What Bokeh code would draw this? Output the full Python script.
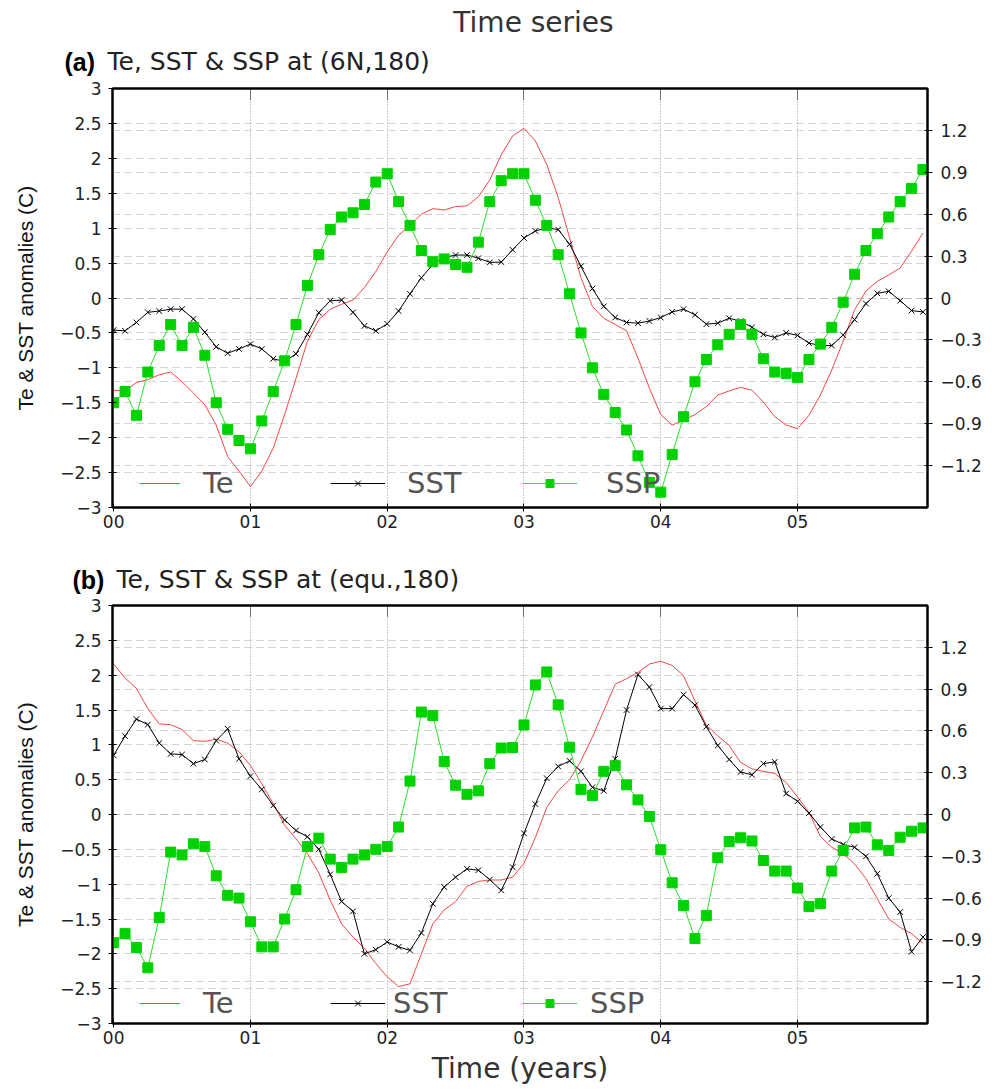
import numpy as np
from bokeh.plotting import figure
from bokeh.models import Range1d, LinearAxis, FixedTicker, Legend, LegendItem, Grid
from bokeh.core.properties import value
from bokeh.layouts import column
from bokeh.embed import file_html
from bokeh.resources import INLINE

# ---------------- data ----------------
months = list(range(72))
year_ticks = [0, 12, 24, 36, 48, 60]
year_labels = ["00", "01", "02", "03", "04", "05"]
left_ticks = [-3.0, -2.5, -2.0, -1.5, -1.0, -0.5, 0.0, 0.5, 1.0, 1.5, 2.0, 2.5, 3.0]
left_labels = ["\u22123", "\u22122.5", "\u22122", "\u22121.5", "\u22121", "\u22120.5", "0",
               "0.5", "1", "1.5", "2", "2.5", "3"]
right_ticks = [-1.2, -0.9, -0.6, -0.3, 0.0, 0.3, 0.6, 0.9, 1.2]
right_labels = ["\u22121.2", "\u22120.9", "\u22120.6", "\u22120.3", "0", "0.3", "0.6", "0.9", "1.2"]

# panel (a) 6N,180
te_a = [-1.32, -1.33, -1.21, -1.17, -1.10, -1.06, -1.20, -1.36, -1.53, -1.82, -2.27, -2.48,
        -2.70, -2.48, -2.15, -1.67, -1.15, -0.62, -0.31, -0.16, -0.09, -0.03, 0.15, 0.38,
        0.66, 0.90, 1.04, 1.20, 1.28, 1.26, 1.31, 1.32, 1.45, 1.69, 2.05, 2.32,
        2.43, 2.25, 1.91, 1.44, 0.86, 0.29, -0.12, -0.29, -0.38, -0.47, -0.86, -1.29,
        -1.67, -1.82, -1.75, -1.67, -1.555, -1.39, -1.33, -1.28, -1.32, -1.49, -1.70, -1.82,
        -1.87, -1.68, -1.39, -1.03, -0.62, -0.17, 0.10, 0.24, 0.33, 0.43, 0.67, 0.93]
sst_a = [-0.46, -0.47, -0.35, -0.205, -0.186, -0.16, -0.16, -0.30, -0.49, -0.70, -0.79, -0.73,
         -0.66, -0.73, -0.87, -0.91, -0.80, -0.52, -0.21, -0.04, -0.03, -0.205, -0.40, -0.47,
         -0.37, -0.186, 0.06, 0.29, 0.48, 0.58, 0.615, 0.615, 0.57, 0.51, 0.515, 0.69,
         0.86, 0.96, 1.005, 0.98, 0.77, 0.455, 0.135, -0.12, -0.28, -0.35, -0.36, -0.33,
         -0.28, -0.20, -0.16, -0.24, -0.375, -0.36, -0.29, -0.33, -0.42, -0.52, -0.565, -0.50,
         -0.535, -0.646, -0.68, -0.68, -0.53, -0.31, -0.08, 0.067, 0.096, -0.038, -0.18, -0.20]
ssp_a = [-0.75, -0.67, -0.84, -0.53, -0.34, -0.19, -0.34, -0.21, -0.41, -0.75, -0.94, -1.02,
         -1.08, -0.88, -0.67, -0.45, -0.19, 0.09, 0.31, 0.49, 0.58, 0.61, 0.67, 0.83,
         0.89, 0.69, 0.52, 0.34, 0.26, 0.28, 0.24, 0.22, 0.40, 0.69, 0.84, 0.89,
         0.89, 0.70, 0.52, 0.31, 0.03, -0.25, -0.50, -0.69, -0.82, -0.945, -1.13, -1.32,
         -1.39, -1.12, -0.85, -0.60, -0.44, -0.335, -0.26, -0.19, -0.26, -0.435, -0.53, -0.54,
         -0.57, -0.44, -0.33, -0.21, -0.03, 0.17, 0.34, 0.46, 0.58, 0.69, 0.785, 0.92]

# panel (b) equ.,180
te_b = [2.16, 1.96, 1.81, 1.52, 1.30, 1.29, 1.22, 1.06, 1.05, 1.08, 1.025, 0.90,
        0.705, 0.44, 0.155, -0.155, -0.35, -0.56, -0.84, -1.23, -1.57, -1.76, -1.92, -2.14,
        -2.33, -2.47, -2.43, -2.00, -1.57, -1.37, -1.25, -1.03, -0.96, -0.94, -0.94, -0.90,
        -0.70, -0.33, 0.105, 0.34, 0.50, 0.77, 1.11, 1.49, 1.87, 1.95, 2.04, 2.16,
        2.20, 2.14, 1.99, 1.63, 1.28, 1.13, 0.99, 0.75, 0.655, 0.62, 0.59, 0.46,
        0.25, 0.03, -0.315, -0.47, -0.56, -0.71, -0.92, -1.21, -1.50, -1.62, -1.71, -1.85]
sst_b = [0.85, 1.125, 1.37, 1.29, 1.025, 0.87, 0.86, 0.73, 0.79, 1.06, 1.23, 0.80,
         0.55, 0.36, 0.13, -0.08, -0.23, -0.32, -0.50, -0.86, -1.25, -1.39, -2.00, -1.94,
         -1.83, -1.90, -1.95, -1.70, -1.28, -1.04, -0.90, -0.78, -0.80, -0.935, -1.09, -0.755,
         -0.27, 0.15, 0.52, 0.69, 0.77, 0.62, 0.39, 0.34, 0.80, 1.50, 2.01, 1.83,
         1.52, 1.52, 1.72, 1.57, 1.26, 0.99, 0.79, 0.61, 0.57, 0.73, 0.755, 0.30,
         0.19, 0.02, -0.18, -0.35, -0.43, -0.47, -0.60, -0.85, -1.20, -1.40, -1.97, -1.76]
ssp_b = [-0.92, -0.855, -0.955, -1.10, -0.74, -0.27, -0.29, -0.21, -0.23, -0.44, -0.58, -0.60,
         -0.77, -0.95, -0.95, -0.75, -0.54, -0.23, -0.17, -0.32, -0.38, -0.32, -0.29, -0.25,
         -0.23, -0.09, 0.24, 0.735, 0.71, 0.38, 0.21, 0.145, 0.17, 0.365, 0.477, 0.48,
         0.643, 0.93, 1.023, 0.787, 0.483, 0.18, 0.136, 0.31, 0.35, 0.213, 0.105, -0.014,
         -0.253, -0.49, -0.653, -0.89, -0.724, -0.31, -0.194, -0.167, -0.19, -0.33, -0.406, -0.406,
         -0.528, -0.66, -0.64, -0.406, -0.258, -0.096, -0.09, -0.218, -0.258, -0.163, -0.12, -0.096]

TE_COLOR = "#f04848"
SSP_LINE = "#2edc2e"
SSP_FILL = "#00d200"
HGRID_DASH = "1 1 1 1 1 1 1 5"
W = 984


def title_strip(height, items):
    """A blank strip carrying the panel titles as SVG text."""
    t = figure(width=W, height=height, output_backend="svg", toolbar_location=None,
               x_range=Range1d(0, W), y_range=Range1d(0, height),
               x_axis_type=None, y_axis_type=None, min_border=0)
    t.frame_align = False
    t.outline_line_color = None
    for (tx, ty, txt, font, size, style, color, align) in items:
        t.text(x=[tx], y=[ty], text=[txt], text_font=value(font), text_font_size=value(size),
               text_font_style=value(style), text_color=color, text_align=value(align),
               text_baseline=value("middle"))
    return t


def make_panel(te, sst, ssp, height, bottom, legend_pos, xlabel=None):
    p = figure(width=W, height=height, output_backend="svg", toolbar_location=None,
               x_range=Range1d(-0.1, 71.4), y_range=Range1d(-3, 3),
               min_border_left=112, min_border_right=52,
               min_border_top=10, min_border_bottom=bottom)
    p.extra_y_ranges = {"right": Range1d(-1.5, 1.5)}
    p.outline_line_color = "black"
    p.outline_line_width = 2

    # grids
    p.xgrid.ticker = FixedTicker(ticks=year_ticks[1:])
    p.xgrid.grid_line_color = "#9a9a9a"
    p.xgrid.grid_line_dash = "1 2"
    p.ygrid.ticker = FixedTicker(ticks=left_ticks[1:-1])
    p.ygrid.grid_line_color = "#a8a8a8"
    p.ygrid.grid_line_dash = HGRID_DASH
    g2 = Grid(dimension=1, ticker=FixedTicker(ticks=right_ticks), y_range_name="right",
              grid_line_color="#a8a8a8", grid_line_dash=HGRID_DASH)
    p.add_layout(g2, "center")

    # bottom axis
    xa = p.xaxis[0]
    xa.ticker = FixedTicker(ticks=year_ticks)
    xa.major_label_overrides = dict(zip(year_ticks, year_labels))
    xa.minor_tick_line_color = None
    xa.major_tick_in = 4
    xa.major_tick_out = 4
    xa.axis_line_width = 2
    xa.major_label_standoff = 3
    xa.major_label_text_font = "DejaVu Sans"
    xa.major_label_text_font_size = "17px"
    xa.major_label_text_color = "#222"
    if xlabel:
        xa.axis_label = xlabel
        xa.axis_label_text_font = "DejaVu Sans"
        xa.axis_label_text_font_size = "28px"
        xa.axis_label_text_font_style = "normal"
        xa.axis_label_text_color = "#333"
        xa.axis_label_standoff = 5

    # left axis
    ya = p.yaxis[0]
    ya.ticker = FixedTicker(ticks=left_ticks)
    ya.major_label_overrides = dict(zip(left_ticks, left_labels))
    ya.minor_tick_line_color = None
    ya.major_tick_in = 4
    ya.major_tick_out = 4
    ya.axis_line_width = 2
    ya.major_label_standoff = 7
    ya.major_label_text_font = "DejaVu Sans"
    ya.major_label_text_font_size = "17px"
    ya.major_label_text_color = "#222"
    ya.axis_label = "Te & SST anomalies (C)"
    ya.axis_label_text_font = "Liberation Sans"
    ya.axis_label_text_font_size = "21px"
    ya.axis_label_text_font_style = "normal"
    ya.axis_label_text_color = "#111"
    ya.axis_label_standoff = 20

    # right axis (SSP)
    ra = LinearAxis(y_range_name="right", ticker=FixedTicker(ticks=right_ticks))
    ra.major_label_overrides = dict(zip(right_ticks, right_labels))
    ra.minor_tick_line_color = None
    ra.major_tick_in = 3
    ra.major_tick_out = 5
    ra.axis_line_width = 2
    ra.major_label_standoff = 8
    ra.major_label_text_font = "DejaVu Sans"
    ra.major_label_text_font_size = "17px"
    ra.major_label_text_color = "#222"
    p.add_layout(ra, "right")

    # top axis: dotted inner ticks only, labels not drawn
    ta = LinearAxis(ticker=FixedTicker(ticks=year_ticks[1:]))
    ta.major_label_text_font_size = "1px"
    ta.major_label_text_color = None
    ta.major_label_standoff = 0
    ta.minor_tick_line_color = None
    ta.major_tick_in = 12
    ta.major_tick_out = 0
    ta.major_tick_line_dash = "1 1"
    ta.major_tick_line_color = "black"
    ta.axis_line_width = 2
    p.add_layout(ta, "above")

    # series
    r_te = p.line(months, te, line_color=TE_COLOR, line_width=1)
    r_sst_l = p.line(months, sst, line_color="black", line_width=1)
    r_sst_m = p.scatter(months, sst, marker="x", size=8, line_color="black", line_width=1)
    r_ssp_l = p.line(months, ssp, line_color=SSP_LINE, line_width=1, y_range_name="right")
    r_ssp_m = p.scatter(months, ssp, marker="square", size=10, fill_color=SSP_FILL,
                        line_color=SSP_FILL, y_range_name="right")

    # legends (one per item so they can be spaced like the original)
    entries = [("Te", [r_te]), ("SST", [r_sst_l, r_sst_m]), ("SSP", [r_ssp_l, r_ssp_m])]
    for (lab, rends), (lx, ly, gw, so) in zip(entries, legend_pos):
        lg = Legend(items=[LegendItem(label=lab, renderers=rends)], location=(lx, ly),
                    orientation="horizontal", glyph_width=gw, glyph_height=20,
                    label_height=20, label_standoff=so, padding=0, margin=0, spacing=0,
                    border_line_alpha=0, background_fill_alpha=0,
                    label_text_font="DejaVu Sans", label_text_font_size="29px",
                    label_text_color="#555", label_text_baseline="middle")
        p.add_layout(lg, "center")
    return p


t1 = title_strip(78, [
    (533, 56, "Time series", "DejaVu Sans", "28px", "normal", "#333", "center"),
    (64, 17, "(a)", "Liberation Sans", "25px", "bold", "black", "left"),
    (107, 17, "Te, SST & SSP at (6N,180)", "DejaVu Sans", "25px", "normal", "#222", "left"),
])
p1 = make_panel(te_a, sst_a, ssp_a, height=470, bottom=41,
                legend_pos=[(27, 7, 41, 23), (218, 7, 55, 22), (410, 7, 55, 29)])
t2 = title_strip(47, [
    (72, 16, "(b)", "Liberation Sans", "25px", "bold", "black", "left"),
    (116, 16, "Te, SST & SSP at (equ.,180)", "DejaVu Sans", "25px", "normal", "#222", "left"),
])
p2 = make_panel(te_b, sst_b, ssp_b, height=493, bottom=65,
                legend_pos=[(27, 3, 41, 23), (218, 3, 55, 8), (410, 3, 55, 13)],
                xlabel="Time (years)")

layout = column(t1, p1, t2, p2, spacing=0)
open("out.html", "w").write(file_html(layout, INLINE))
